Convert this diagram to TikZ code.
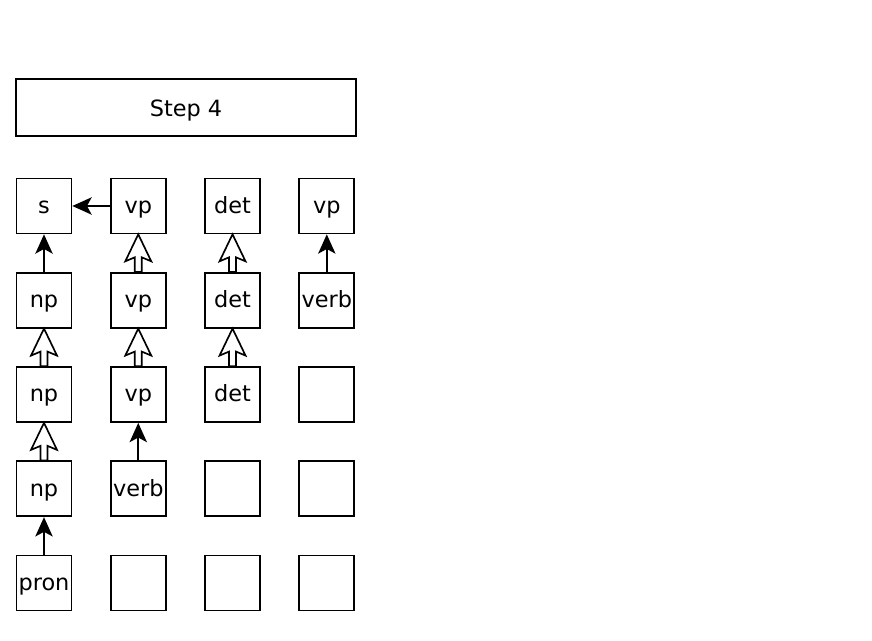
\documentclass[tikz,border=0pt]{standalone}
\usepackage{fontspec}
\setmainfont{DejaVu Sans}
\usetikzlibrary{positioning,calc}
\usetikzlibrary{arrows.meta}

% open (hollow) arrow from node #1 up to node #2
\newcommand{\openarrow}[2]{%
   \draw[boxline, fill=white, line join=miter]
      (#2.south) -- ++(13,27) -- ++(-9.5,-4) -- ($(#1.north)+(3.5,0)$)
      -- ++(-7,0) -- ($(#2.south)+(-3.5,23)$) -- ++(-9.5,4) -- cycle;}

\begin{document}
\begin{tikzpicture}[x=0.75pt, y=-0.75pt,
         boxline/.style = {line width=1.25pt},
         cell/.style = {boxline, draw, minimum size=41.25pt, inner sep=0pt,
         text height=11pt, text depth=0pt,
         font=\fontsize{16.8}{20}\selectfont},
         link/.style = {boxline, -{Stealth[length=14.5pt,width=13pt,inset=3.5pt]}},
         on grid, node distance=70.7pt]

   \useasboundingbox (0,0) rectangle (872,641);

   \node[cell, minimum width=255pt, minimum height=42.75pt,
         text height=14pt] (step) at (186,107.5) {Step 4};

   % first column
   \node[cell] (n11) at (44,206)    {s};
   \node[cell, below=of n11] (n12)  {np};
   \node[cell, below=of n12] (n13)  {np};
   \node[cell, below=of n13] (n14)  {np};
   \node[cell, below=of n14] (n15)  {pron};

   % second column
   \node[cell, right=of n11] (n21)  {vp};
   \node[cell, below=of n21] (n22)  {vp};
   \node[cell, below=of n22] (n23)  {vp};
   \node[cell, below=of n23] (n24)  {verb};
   \node[cell, below=of n24] (n25)  {};

   % third column
   \node[cell, right=of n21] (n31)  {det};
   \node[cell, below=of n31] (n32)  {det};
   \node[cell, below=of n32] (n33)  {det};
   \node[cell, below=of n33] (n34)  {};
   \node[cell, below=of n34] (n35)  {};

   % fourth column
   \node[cell, right=of n31] (n41)  {vp};
   \node[cell, below=of n41] (n42)  {verb};
   \node[cell, below=of n42] (n43)  {};
   \node[cell, below=of n43] (n44)  {};
   \node[cell, below=of n44] (n45)  {};

   % plain arrows
   \draw[link] (n12) -- (n11);
   \draw[link] (n21) -- (n11);
   \draw[link] (n15) -- (n14);
   \draw[link] (n24) -- (n23);
   \draw[link] (n42) -- (n41);

   % open arrows
   \openarrow{n13}{n12}
   \openarrow{n14}{n13}
   \openarrow{n22}{n21}
   \openarrow{n23}{n22}
   \openarrow{n32}{n31}
   \openarrow{n33}{n32}

\end{tikzpicture}
\end{document}
